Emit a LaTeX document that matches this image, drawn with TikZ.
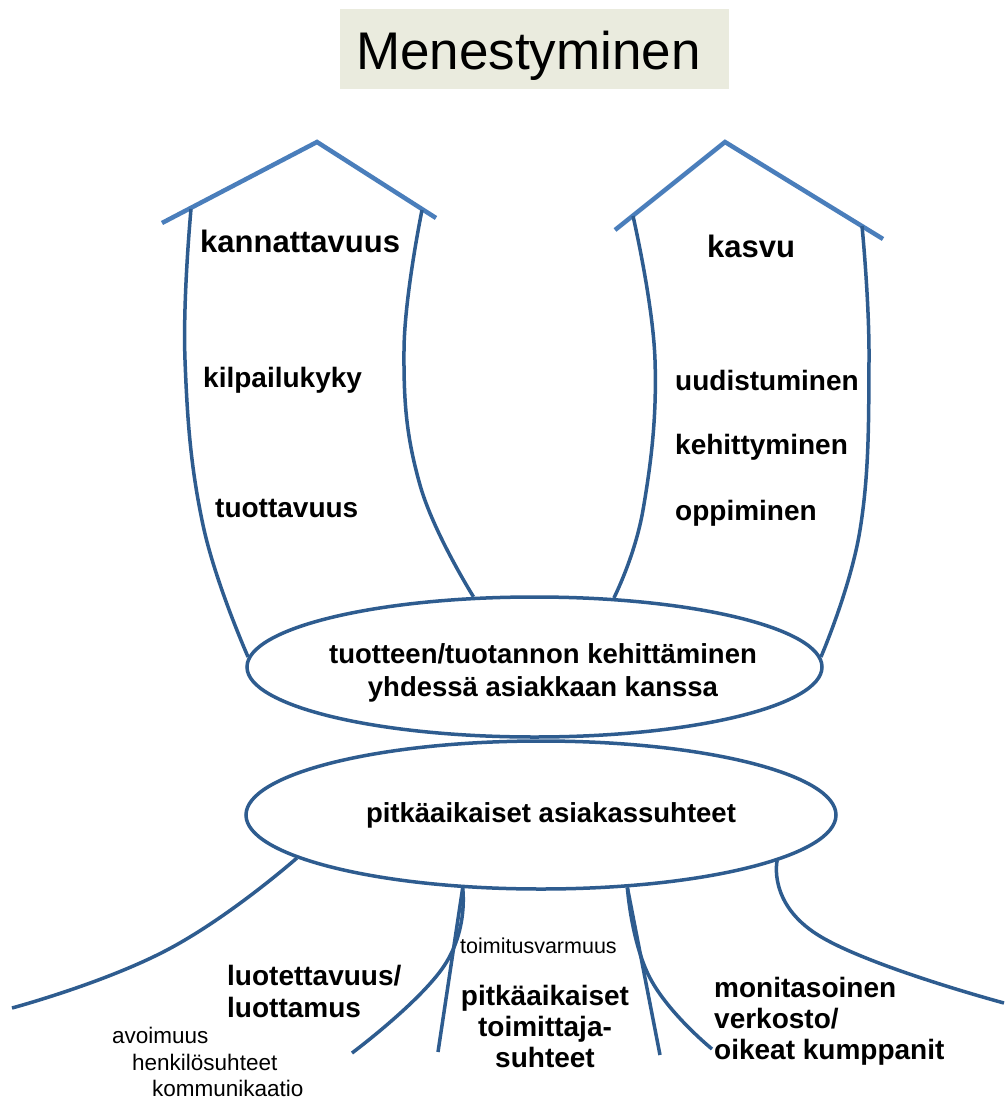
\documentclass[tikz,border=0pt]{standalone}
\usepackage{fontspec}
\setmainfont{Liberation Sans}
\usetikzlibrary{shapes.geometric}
\definecolor{roofblue}{RGB}{74,126,187}
\definecolor{lineblue}{RGB}{46,92,143}
\definecolor{titlebg}{RGB}{234,235,222}
\tikzset{
  roof/.style={draw=roofblue, line width=4.5pt},
  wall/.style={draw=lineblue, line width=3.5pt},
  oval/.style={ellipse, draw=lineblue, line width=3.5pt, inner sep=0pt},
  bigword/.style={font=\fontsize{28}{32}\selectfont\bfseries, inner sep=0pt},
  headword/.style={font=\fontsize{31}{34}\selectfont\bfseries, inner sep=0pt},
  smallword/.style={font=\fontsize{22.5}{26}\selectfont, inner sep=0pt},
}
\begin{document}
\begin{tikzpicture}[x=1pt, y=-1pt]
\fill[white] (0,0) rectangle (1004,1099);
\useasboundingbox (0,0) rectangle (1004,1099);

% title
\node[fill=titlebg, minimum width=389pt, minimum height=80pt, inner sep=0pt] (titlebox) at (534.5,49) {};
\node[anchor=base, inner sep=0pt, font=\fontsize{53}{60}\selectfont] (title) at (528.5,70) {Menestyminen};

% the two ovals
\node[oval, minimum width=575pt, minimum height=140pt] (dev) at (534.5,667) {};
\node[oval, minimum width=590pt, minimum height=148pt] (pit) at (541,815) {};
\node[bigword, align=center, font=\fontsize{27.5}{33}\selectfont\bfseries] (devtext) at (543,673)
  {tuotteen/tuotannon kehittäminen\\yhdessä asiakkaan kanssa};
\node[bigword, font=\fontsize{27.5}{33}\selectfont\bfseries] (pittext) at (551,815) {pitkäaikaiset asiakassuhteet};

% roofs
\coordinate (lroofL) at (162,223);
\coordinate (lroofT) at (317,142);
\coordinate (lroofR) at (436,218);
\coordinate (rroofL) at (615,230);
\coordinate (rroofT) at (725,142);
\coordinate (rroofR) at (883,239);
\draw[roof] (lroofL) -- (lroofT) -- (lroofR);
\draw[roof] (rroofL) -- (rroofT) -- (rroofR);

% wall tops
\coordinate (lwallA) at (191,209);
\coordinate (lwallB) at (422,210);
\coordinate (rwallA) at (633,216);
\coordinate (rwallB) at (862,226);

% walls
\draw[wall] plot[smooth, tension=0.7] coordinates
  {(lwallA) (185,360) (203,525) (dev.178)};
\draw[wall] plot[smooth, tension=0.7] coordinates
  {(lwallB) (404,350) (420,485) (dev.131)};
\draw[wall] plot[smooth, tension=0.7] coordinates
  {(rwallA) (655,360) (643,510) (dev.41)};
\draw[wall] plot[smooth, tension=0.7] coordinates
  {(rwallB) (869,360) (860,530) (dev.2)};

% roots
\coordinate (rootA) at (12,1008);
\coordinate (rootB) at (352,1053);
\coordinate (rootC) at (438,1052);
\coordinate (rootD) at (660,1055);
\coordinate (rootE) at (712,1049);
\coordinate (rootF) at (1004,1003);
\draw[wall] plot[smooth, tension=0.8] coordinates
  {(pit.-170) (167,950) (rootA)};
\draw[wall] plot[smooth, tension=0.8] coordinates
  {(pit.-137) (444,966) (rootB)};
\draw[wall] (pit.-137) -- (rootC);
\draw[wall] (pit.-40) -- (rootD);
\draw[wall] plot[smooth, tension=0.8] coordinates
  {(pit.-40) (650,978) (rootE)};
\draw[wall] plot[smooth, tension=0.8] coordinates
  {(pit.-11.5) (818,935) (rootF)};

% words in the left house
\node[headword, anchor=west] (kann) at (200,241) {kannattavuus};
\node[bigword, anchor=west] (kilp) at (203,380) {kilpailukyky};
\node[bigword, anchor=west] (tuot) at (215,508) {tuottavuus};

% words in the right house
\node[headword, anchor=west] (kasvu) at (707,246) {kasvu};
\node[bigword, anchor=west] (uud) at (675,380) {uudistuminen};
\node[bigword, anchor=west] (keh) at (675,447) {kehittyminen};
\node[bigword, anchor=west] (opp) at (675,513) {oppiminen};

% words among the roots
\node[bigword, anchor=west, align=left, font=\fontsize{28}{32}\selectfont\bfseries] (luot) at (227,991) {luotettavuus/\\luottamus};
\node[smallword, anchor=west] (avo) at (112,1035) {avoimuus};
\node[smallword, anchor=west] (henk) at (132,1062) {henkilösuhteet};
\node[smallword, anchor=west] (komm) at (152,1088) {kommunikaatio};
\node[smallword, anchor=west, font=\fontsize{21.5}{26}\selectfont] (toim) at (460,946) {toimitusvarmuus};
\node[bigword, align=center, font=\fontsize{28}{31}\selectfont\bfseries] (supp) at (545,1026) {pitkäaikaiset\\toimittaja-\\suhteet};
\node[bigword, anchor=west, align=left, font=\fontsize{28}{31}\selectfont\bfseries] (verk) at (714,1021) {monitasoinen\\verkosto/\\oikeat kumppanit};
\end{tikzpicture}
\end{document}
